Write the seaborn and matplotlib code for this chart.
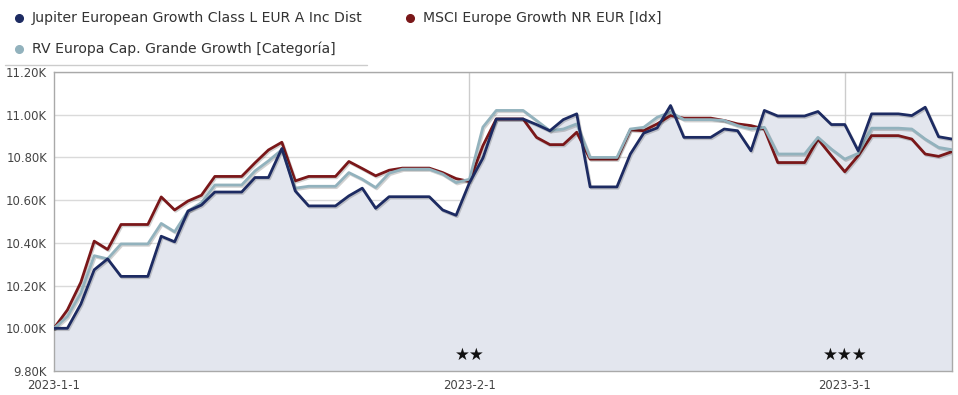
import numpy as np
import pandas as pd
import matplotlib
matplotlib.use("Agg")
import matplotlib.pyplot as plt
import matplotlib.dates as mdates
import matplotlib.patheffects as pe
from matplotlib.lines import Line2D
import seaborn as sns

# ---------------- data ----------------
start_date = "2023-01-01"
n_days = 68

jupiter = [10000, 10000, 10113, 10274, 10325, 10243, 10243, 10243, 10431, 10405,
           10549, 10577, 10638, 10638, 10638, 10706, 10706, 10842, 10643, 10573,
           10573, 10573, 10620, 10656, 10562, 10616, 10616, 10616, 10616, 10554,
           10529, 10682, 10797, 10980, 10980, 10980, 10954, 10925, 10977, 11004,
           10662, 10662, 10662, 10816, 10914, 10938, 11043, 10894, 10894, 10894,
           10933, 10925, 10831, 11020, 10994, 10994, 10994, 11015, 10954, 10954,
           10831, 11004, 11004, 11004, 10996, 11035, 10897, 10886]

msci = [10000, 10086, 10215, 10408, 10369, 10486, 10486, 10486, 10615, 10554,
        10596, 10623, 10711, 10711, 10711, 10775, 10835, 10871, 10690, 10711,
        10711, 10711, 10781, 10748, 10714, 10740, 10750, 10750, 10750, 10729,
        10701, 10687, 10855, 10980, 10980, 10980, 10894, 10860, 10860, 10918,
        10792, 10792, 10792, 10929, 10925, 10957, 10996, 10984, 10984, 10984,
        10973, 10957, 10949, 10933, 10776, 10776, 10776, 10886, 10808, 10733,
        10808, 10902, 10902, 10902, 10886, 10816, 10805, 10827]

categoria = [10000, 10055, 10165, 10340, 10325, 10395, 10395, 10395, 10491, 10452,
             10549, 10588, 10671, 10671, 10671, 10737, 10784, 10836, 10656, 10665,
             10665, 10665, 10729, 10698, 10659, 10726, 10745, 10745, 10745, 10722,
             10682, 10698, 10942, 11020, 11020, 11020, 10973, 10925, 10933, 10957,
             10800, 10800, 10800, 10933, 10941, 10988, 11012, 10977, 10977, 10977,
             10973, 10949, 10933, 10941, 10816, 10816, 10816, 10894, 10839, 10792,
             10819, 10937, 10937, 10937, 10933, 10886, 10847, 10836]

series_names = ["Jupiter European Growth Class L EUR A Inc Dist",
                "MSCI Europe Growth NR EUR [Idx]",
                "RV Europa Cap. Grande Growth [Categoría]"]
series_colors = ["#1d2b62", "#7a1719", "#92b2bd"]

y_ticks = [9800, 10000, 10200, 10400, 10600, 10800, 11000, 11200]
x_tick_dates = ["2023-01-01", "2023-02-01", "2023-03-01"]
x_tick_labels = ["2023-1-1", "2023-2-1", "2023-3-1"]
rating_dates = ["2023-02-01", "2023-03-01"]
rating_labels = ["★★", "★★★"]

# ---------------- build frame ----------------
dates = pd.date_range(start_date, periods=n_days, freq="D")
df = pd.DataFrame({"date": dates,
                   series_names[0]: jupiter,
                   series_names[1]: msci,
                   series_names[2]: categoria})
long = df.melt(id_vars="date", var_name="serie", value_name="valor")

# ---------------- figure ----------------
sns.set_theme(style="white")
plt.rcParams["font.family"] = ["DejaVu Sans"]
W, H = 958, 395
fig = plt.figure(figsize=(W / 100, H / 100), dpi=100)
ax = fig.add_axes([54 / W, 1 - 371 / H, (952 - 54) / W, (371 - 72) / H])

ax.set_ylim(9800, 11200)
ax.set_xlim(dates[0], dates[-1])

# grid
for yv in y_ticks:
    ax.axhline(yv, color="#dadada", lw=1, zorder=1)
for d in x_tick_dates[1:]:
    ax.axvline(pd.Timestamp(d), color="#cccccc", lw=1, zorder=1)

# fill under fund
ax.fill_between(df["date"], df[series_names[0]], 9800, color="#e3e6ee", zorder=2, lw=0)

palette = dict(zip(series_names, series_colors))
draw_order = [series_names[1], series_names[2], series_names[0]]
for i, name in enumerate(draw_order):
    sub = long[long["serie"] == name]
    sns.lineplot(data=sub, x="date", y="valor", color=palette[name], lw=2.0,
                 ax=ax, legend=False, zorder=3 + i,
                 path_effects=[pe.SimpleLineShadow(offset=(0.8, -1.0), alpha=0.18, shadow_color="#000000"),
                               pe.Normal()])

ax.set_xlabel("")
ax.set_ylabel("")
ax.set_yticks(y_ticks)
ax.set_yticklabels([f"{v/1000:.2f}K" for v in y_ticks])
ax.set_xticks([pd.Timestamp(d) for d in x_tick_dates])
ax.set_xticklabels(x_tick_labels)
ax.tick_params(axis="y", length=0, pad=5, labelsize=8.4, labelcolor="#444444")
ax.tick_params(axis="x", length=0, pad=6, labelsize=8.4, labelcolor="#444444")

for s in ax.spines.values():
    s.set_color("#a9a9a9")
    s.set_linewidth(1)
    s.set_visible(True)

# ratings stars
for d, lab in zip(rating_dates, rating_labels):
    ax.annotate(lab, xy=(pd.Timestamp(d), 9800), xytext=(0, 5), textcoords="offset points",
                ha="center", va="bottom", fontsize=12, color="#111111", zorder=10)

# legend (manual)
leg_pos = [(19, 18), (410, 18), (19, 49)]
for (px, py), name, col in zip(leg_pos, series_names, series_colors):
    fig.add_artist(Line2D([px / W], [1 - py / H], marker="o", markersize=5.5,
                          color=col, transform=fig.transFigure, linestyle="none"))
    fig.text((px + 13) / W, 1 - py / H, name, fontsize=10.1, color="#333333",
             va="center", ha="left")
fig.add_artist(Line2D([5 / W, 367 / W], [1 - 65 / H, 1 - 65 / H], color="#cccccc",
                      lw=1, transform=fig.transFigure))

fig.savefig("out.png", dpi=100)
